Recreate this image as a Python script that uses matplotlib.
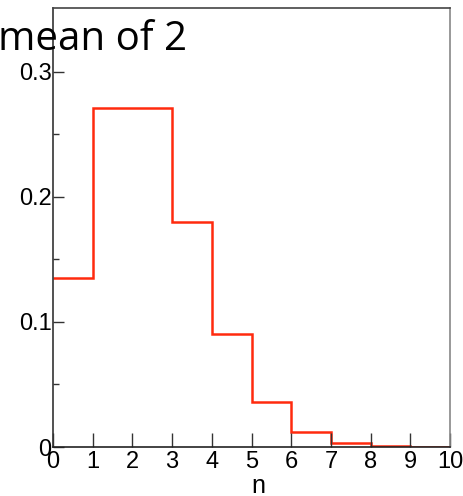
import matplotlib
matplotlib.use("Agg")
import matplotlib.pyplot as plt
from matplotlib.ticker import FixedLocator

# Poisson probabilities for a mean of 2, one bin per integer n
n_edges = [0, 1, 2, 3, 4, 5, 6, 7, 8, 9, 10]
prob = [0.135, 0.271, 0.271, 0.180, 0.090, 0.036, 0.012, 0.0034, 0.0009, 0.0002]
x_ticks = [0, 1, 2, 3, 4, 5, 6, 7, 8, 9, 10]
y_ticks = [0.0, 0.1, 0.2, 0.3]
y_tick_labels = ["0", "0.1", "0.2", "0.3"]

W, H = 463, 496
fig = plt.figure(figsize=(W / 100, H / 100), dpi=100)
ax = fig.add_axes([53 / W, 1 - 447 / H, (450 - 53) / W, (447 - 8) / H])

ax.stairs(prob, n_edges, baseline=None, color="#ff2a0e", linewidth=1.8)

ax.set_xlim(0, 10)
ax.set_ylim(0, 0.351)

sans = ["Liberation Sans", "DejaVu Sans"]
ax.xaxis.set_major_locator(FixedLocator(x_ticks))
ax.set_xticklabels([str(t) for t in x_ticks], family=sans, size=17)
ax.yaxis.set_major_locator(FixedLocator(y_ticks))
ax.set_yticklabels(y_tick_labels, family=sans, size=17)
ax.yaxis.set_minor_locator(FixedLocator([0.05, 0.15, 0.25]))

ax.tick_params(axis="x", which="major", direction="in", length=10, width=1,
               pad=3, color="#333333")
ax.tick_params(axis="y", which="major", direction="in", length=8, width=1,
               pad=1, color="#333333")
ax.tick_params(axis="y", which="minor", direction="in", length=4, width=1,
               color="#333333")

for side, col in [("left", "#333333"), ("bottom", "#222222"),
                  ("top", "#444444"), ("right", "#888888")]:
    ax.spines[side].set_color(col)
    ax.spines[side].set_linewidth(1.2)

ax.set_xlabel("n", family=sans, size=18, va="baseline")
ax.xaxis.set_label_coords(0.516, -0.104)

fig.text(-2 / W, 1 - 50 / H, "mean of 2", family=["Open Sans", "DejaVu Sans"],
         size=29, ha="left", va="baseline")

fig.savefig("out.png", dpi=100)
